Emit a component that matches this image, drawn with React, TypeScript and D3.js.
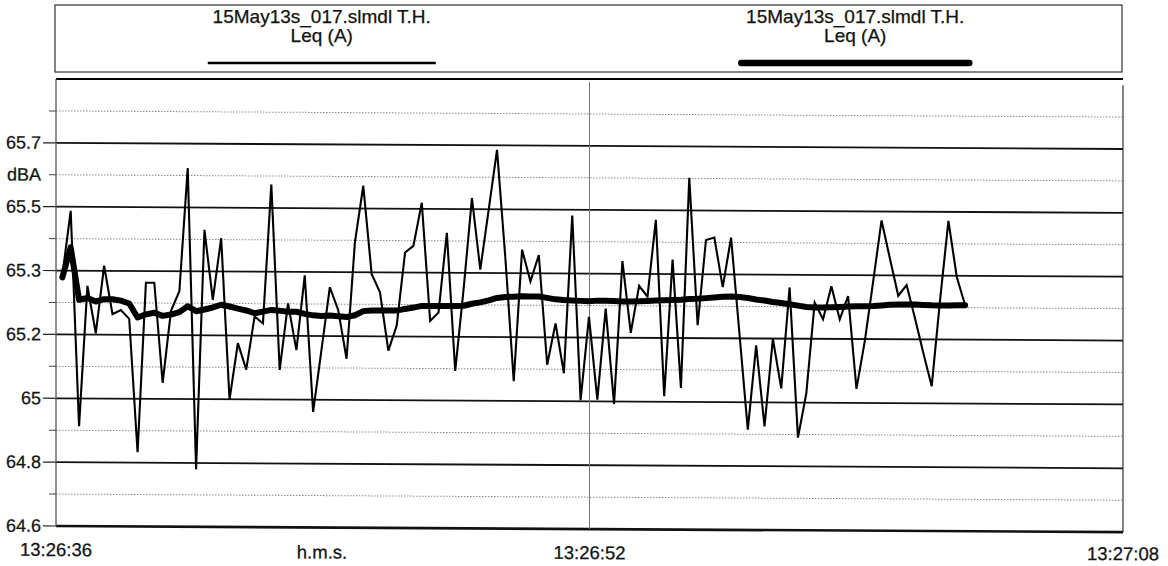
import React from 'react';
import * as d3 from 'd3';

// ---- data ----
const legendTitle = '15May13s_017.slmdl T.H.';
const legendSub = 'Leq (A)';
const unitLabel = 'dBA';
const xAxisTitle = 'h.m.s.';
const xTickLabels = ['13:26:36', '13:26:52', '13:27:08'];
const xTickSeconds = [0, 16, 32];
const yTickLabels = ['64.6', '64.8', '65', '65.2', '65.3', '65.5', '65.7'];
const yMin = 64.6;
const yStep = 1.1 / 6;
const sampleStart = 0.19; // seconds after 13:26:36
const sampleStep = 0.2507; // seconds

// Leq (A) short samples (thin line)
const leqShort = [
  65.319, 65.505, 64.887, 65.29, 65.154, 65.348, 65.209, 65.221, 65.196, 64.813,
  65.3, 65.3, 65.013, 65.22, 65.276, 65.63, 64.765, 65.453, 65.252, 65.429,
  64.966, 65.128, 65.052, 65.205, 65.185, 65.584, 65.052, 65.243, 65.109, 65.324,
  64.932, 65.11, 65.29, 65.225, 65.085, 65.419, 65.582, 65.329, 65.276, 65.109,
  65.181, 65.391, 65.41, 65.534, 65.195, 65.219, 65.448, 65.052, 65.286, 65.548,
  65.343, 65.515, 65.687, 65.376, 65.023, 65.401, 65.31, 65.386, 65.071, 65.19,
  65.047, 65.5, 64.97, 65.209, 64.972, 65.233, 64.96, 65.37, 65.164, 65.299,
  65.268, 65.489, 64.983, 65.375, 65.007, 65.61, 65.187, 65.432, 65.439, 65.297,
  65.439, 65.164, 64.888, 65.13, 64.898, 65.149, 65.007, 65.297, 64.866, 64.993,
  65.254, 65.206, 65.301, 65.206, 65.273, 65.007, 65.145, 65.316, 65.491, 65.382,
  65.275, 65.306, 65.211, 65.111, 65.016, 65.263, 65.491, 65.33, 65.249,
];

// Leq (A) running (thick line)
const leqRunning = [
  65.314, 65.4, 65.25, 65.255, 65.245, 65.252, 65.252, 65.248, 65.24, 65.2,
  65.209, 65.214, 65.205, 65.209, 65.216, 65.233, 65.219, 65.224, 65.23, 65.238,
  65.233, 65.227, 65.222, 65.214, 65.219, 65.224, 65.222, 65.219, 65.219, 65.213,
  65.209, 65.207, 65.209, 65.207, 65.205, 65.21, 65.222, 65.224, 65.224, 65.224,
  65.224, 65.229, 65.233, 65.238, 65.238, 65.238, 65.238, 65.238, 65.239, 65.245,
  65.249, 65.255, 65.262, 65.265, 65.266, 65.267, 65.267, 65.267, 65.263, 65.259,
  65.257, 65.256, 65.255, 65.254, 65.256, 65.256, 65.255, 65.254, 65.254, 65.255,
  65.256, 65.257, 65.258, 65.259, 65.26, 65.262, 65.263, 65.265, 65.267, 65.269,
  65.27, 65.269, 65.266, 65.262, 65.259, 65.255, 65.252, 65.249, 65.245, 65.241,
  65.24, 65.24, 65.241, 65.242, 65.243, 65.244, 65.244, 65.245, 65.247, 65.249,
  65.25, 65.25, 65.25, 65.249, 65.248, 65.248, 65.248, 65.249, 65.249,
];

// ---- layout ----
const W = 1168;
const H = 566;
const ML = 56;
const MR = 1123;
const PT = 79;
const PB = 526;
const FONT = '"Liberation Sans", Arial, sans-serif';
const skewDeg = 0.33;
const textStyle = { stroke: '#111', strokeWidth: 0.25 };

export default function App() {
  const x = d3.scaleLinear().domain([0, 32]).range([ML, MR]);
  const yMax = yMin + 7 * yStep;
  const y = d3.scaleLinear().domain([yMin, yMax]).range([PB, PT]);

  const majorVals = d3.range(7).map((k) => yMin + k * yStep);
  const minorVals = d3.range(7).map((k) => yMin + (k + 0.5) * yStep);

  const tOf = (i: number) => sampleStart + i * sampleStep;
  const line = d3
    .line<number>()
    .x((_, i) => x(tOf(i)))
    .y((d) => y(d));

  const legendBox = { x0: 55, x1: 1122, y0: 5, y1: 72 };
  const legendCenters = [0.25, 0.75].map(
    (f) => legendBox.x0 + f * (legendBox.x1 - legendBox.x0)
  );
  const halfLen = 114;

  return (
    <svg
      width={W}
      height={H}
      style={{ position: 'absolute', left: 0, top: 0, background: '#fff' }}
      fontFamily={FONT}
    >
      <rect x={0} y={0} width={W} height={H} fill="#fff" />
      {/* legend */}
      <rect
        x={legendBox.x0}
        y={legendBox.y0}
        width={legendBox.x1 - legendBox.x0}
        height={legendBox.y1 - legendBox.y0}
        fill="none"
        stroke="#333"
        strokeWidth={1.2}
      />
      {legendCenters.map((cx, k) => (
        <g key={k}>
          <text x={cx} y={23} textAnchor="middle" fontSize={19} fill="#111" style={textStyle}>
            {legendTitle}
          </text>
          <text x={cx} y={42} textAnchor="middle" fontSize={19} fill="#111" style={textStyle}>
            {legendSub}
          </text>
          <line
            x1={cx - halfLen}
            x2={cx + halfLen}
            y1={63}
            y2={63}
            stroke="#000"
            strokeWidth={k === 0 ? 2.5 : 6.5}
            strokeLinecap={k === 0 ? 'butt' : 'round'}
          />
        </g>
      ))}

      {/* plot top border (flat) */}
      <line x1={ML} x2={MR} y1={PT} y2={PT} stroke="#000" strokeWidth={2.2} />

      <g transform={`translate(${ML},0) skewY(${skewDeg}) translate(${-ML},0)`}>
        {/* minor dotted grid */}
        {minorVals.map((v, k) => (
          <g key={'mi' + k}>
            <line
              x1={ML}
              x2={MR}
              y1={y(v)}
              y2={y(v)}
              stroke="#8a8a8a"
              strokeWidth={1}
              strokeDasharray="1.5 1.5"
            />
            <line x1={49} x2={ML} y1={y(v)} y2={y(v)} stroke="#444" strokeWidth={1} />
          </g>
        ))}
        {/* major grid */}
        {majorVals.map((v, k) => (
          <g key={'ma' + k}>
            <line
              x1={ML}
              x2={MR}
              y1={y(v)}
              y2={y(v)}
              stroke="#111"
              strokeWidth={k === 0 ? 2.6 : 1.8}
            />
            <line x1={43} x2={ML} y1={y(v)} y2={y(v)} stroke="#222" strokeWidth={1.2} />
            <text
              x={41}
              y={y(v)}
              textAnchor="end"
              dominantBaseline="central"
              fontSize={18}
              fill="#111"
              style={textStyle}
            >
              {yTickLabels[k]}
            </text>
          </g>
        ))}
        <text
          x={41}
          y={y(minorVals[5])}
          textAnchor="end"
          dominantBaseline="central"
          fontSize={18}
          fill="#111"
          style={textStyle}
        >
          {unitLabel}
        </text>

        {/* vertical lines */}
        <line x1={ML} x2={ML} y1={PT} y2={PB} stroke="#555" strokeWidth={1.3} />
        <line x1={MR} x2={MR} y1={PT} y2={PB} stroke="#333" strokeWidth={1.2} />
        <line
          x1={x(xTickSeconds[1])}
          x2={x(xTickSeconds[1])}
          y1={PT}
          y2={PB}
          stroke="#777"
          strokeWidth={1}
        />

        {/* data */}
        <path d={line(leqShort) || ''} fill="none" stroke="#000" strokeWidth={2.1} strokeLinejoin="miter" />
        <path
          d={line(leqRunning) || ''}
          fill="none"
          stroke="#000"
          strokeWidth={6}
          strokeLinejoin="round"
          strokeLinecap="round"
        />

        {/* x labels */}
        {xTickLabels.map((lab, k) => (
          <text
            key={lab}
            x={x(xTickSeconds[k])}
            y={k === 2 ? 554 : 556}
            textAnchor="middle"
            fontSize={18.5}
            fill="#111"
            style={textStyle}
          >
            {lab}
          </text>
        ))}
        <text x={322} y={557} textAnchor="middle" fontSize={18.5} fill="#111" style={textStyle}>
          {xAxisTitle}
        </text>
      </g>
    </svg>
  );
}
